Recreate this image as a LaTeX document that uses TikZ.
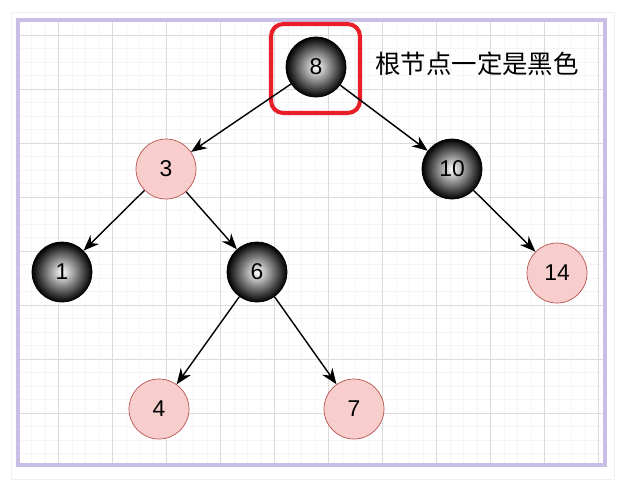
\documentclass[tikz,border=0pt]{standalone}
\usepackage{fontspec}
\setmainfont{Liberation Sans}
\newfontfamily\cjk{Noto Sans CJK SC}
\usetikzlibrary{positioning, arrows.meta}
\definecolor{frame}{RGB}{200,190,230}
\definecolor{redfill}{RGB}{248,206,204}
\definecolor{redline}{RGB}{184,84,80}
\definecolor{markred}{RGB}{232,30,40}
\tikzset{
  blacknode/.style={circle, minimum size=1.2cm, inner sep=0pt, draw=black,
    inner color=white, outer color=black, font=\fontsize{13}{13}\selectfont},
  rednode/.style={circle, minimum size=1.2cm, inner sep=0pt, draw=redline,
    fill=redfill, font=\fontsize{13}{13}\selectfont},
  edge/.style={-{Stealth[length=9pt,width=7pt]}, thick}
}
\begin{document}
\begin{tikzpicture}[x=0.02cm, y=-0.02cm]
        \useasboundingbox (0,0) rectangle (625,491);
        \fill[white] (0,0) rectangle (625,491);
        \draw[gray!12] (11,12) rectangle (614,479);
        % grid
        \begin{scope}
            \clip (18,20) rectangle (604,464);
            \foreach \i in {-4,...,45} {
                \draw[gray!8] (4.5+\i*13.5,20) -- (4.5+\i*13.5,464);
                \draw[gray!8] (18,35+\i*13.5-54) -- (604,35+\i*13.5-54);
            }
            \foreach \i in {0,...,11} {
                \draw[gray!28] (4.5+\i*54,20) -- (4.5+\i*54,464);
                \draw[gray!28] (18,35+\i*54-54) -- (604,35+\i*54-54);
            }
        \end{scope}
        \draw[frame, line width=2.8pt] (18,20) rectangle (605,465);
        % nodes
        \node[blacknode] (n8) at (316,67) {8};
        \node[rednode] (n3) at (166,169) {3};
        \node[blacknode] (n10) at (452,169) {10};
        \node[blacknode] (n1) at (62,272) {1};
        \node[blacknode] (n6) at (257,272) {6};
        \node[rednode] (n14) at (557,273) {14};
        \node[rednode] (n4) at (159,409) {4};
        \node[rednode] (n7) at (354,409) {7};
        \node (note) at (477,64) {\cjk\fontsize{14.5}{14.5}\selectfont 根节点一定是黑色};
        \draw[markred, line width=2.3pt, rounded corners=7pt] (271,24) rectangle (360,113);
        % edges
        \draw[edge] (n8) -- (n3);
        \draw[edge] (n8) -- (n10);
        \draw[edge] (n3) -- (n1);
        \draw[edge] (n3) -- (n6);
        \draw[edge] (n10) -- (n14);
        \draw[edge] (n6) -- (n4);
        \draw[edge] (n6) -- (n7);
\end{tikzpicture}
\end{document}
